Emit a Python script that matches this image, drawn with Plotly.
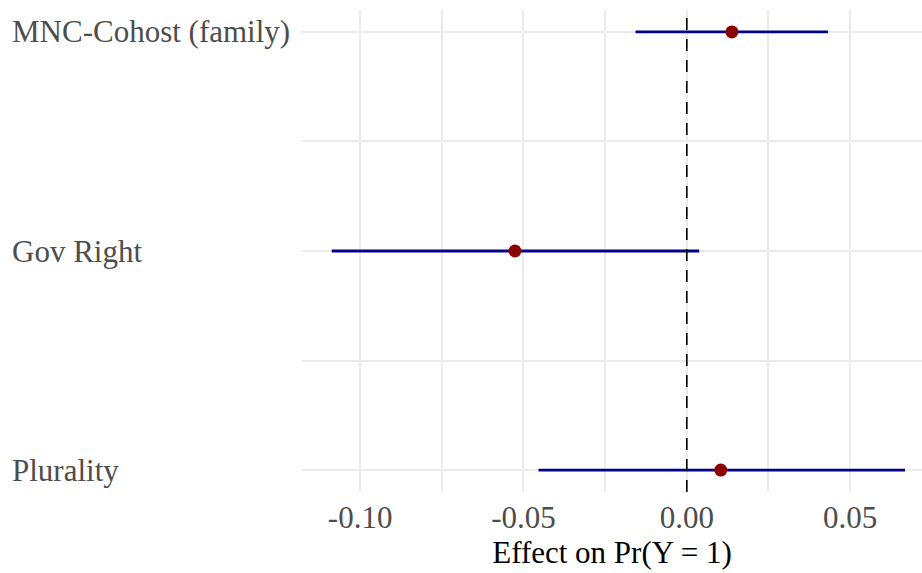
import plotly.graph_objects as go

# Coefficient estimates (marginal effects) with 95% interval bounds
terms = ["MNC-Cohost (family)", "Gov Right", "Plurality"]
estimate = [0.0138, -0.0526, 0.0104]
conf_low = [-0.0157, -0.1087, -0.0454]
conf_high = [0.0432, 0.0038, 0.0668]

x_ticks = [-0.10, -0.05, 0.00, 0.05]
x_title = "Effect on Pr(Y = 1)"

# top-to-bottom order of the terms
ypos = [len(terms) - 1 - i for i in range(len(terms))]

TICK_FONT = dict(family="Liberation Serif", size=31, color="#4d4d4d")
GRID = "#ebebeb"

fig = go.Figure()
fig.add_trace(go.Scatter(
    x=estimate,
    y=ypos,
    mode="markers",
    marker=dict(size=13, color="#8B0000"),
    error_x=dict(
        type="data",
        symmetric=False,
        array=[h - e for h, e in zip(conf_high, estimate)],
        arrayminus=[e - l for e, l in zip(estimate, conf_low)],
        width=0,
        thickness=2.8,
        color="#00008B",
    ),
    showlegend=False,
))

# reference line at zero effect
fig.add_vline(x=0, line=dict(color="black", width=1.6, dash="12px,9px"), layer="above")

# term labels, left aligned near the figure edge
for t, y in zip(terms, ypos):
    fig.add_annotation(
        x=-292 / 620, xref="paper", xanchor="left",
        y=y, yref="y", yanchor="middle",
        text=t, showarrow=False, font=TICK_FONT,
    )

fig.update_xaxes(
    range=[-0.1178, 0.0720],
    tickvals=x_ticks,
    ticktext=[f"{v:.2f}" for v in x_ticks],
    tickfont=TICK_FONT,
    ticklabelstandoff=4,
    showgrid=True, gridcolor=GRID, gridwidth=2.2,
    minor=dict(tick0=0, dtick=0.025, showgrid=True, gridcolor=GRID, gridwidth=1.8),
    zeroline=False, showline=False, ticks="",
    title=dict(text=x_title, font=dict(family="Liberation Serif", size=31, color="black"), standoff=6),
)
fig.update_yaxes(
    range=[-0.1, 2.1],
    tickvals=ypos,
    showticklabels=False,
    showgrid=True, gridcolor=GRID, gridwidth=2.2,
    minor=dict(tickvals=[0.5, 1.5], showgrid=True, gridcolor=GRID, gridwidth=1.8),
    zeroline=False, showline=False, ticks="",
)

fig.update_layout(
    width=922, height=573,
    margin=dict(l=302, r=0, t=10, b=81),
    plot_bgcolor="white", paper_bgcolor="white",
)

fig.write_html("out.html")
